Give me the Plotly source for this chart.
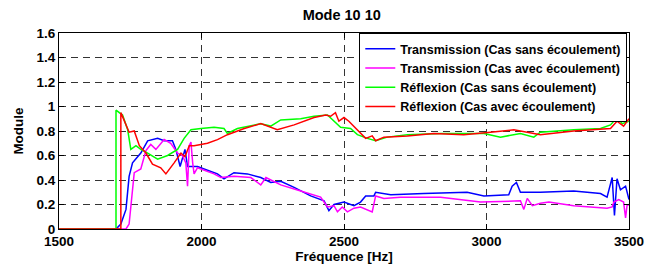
import plotly.graph_objects as go

# Transmission (Cas sans écoulement) - blue
f_blue = [1500, 1700, 1717, 1735, 1746, 1758, 1787, 1811, 1846, 1869, 1898, 1910, 1925, 1942, 1951,
          1986, 2021, 2056, 2079, 2114, 2161, 2208, 2243, 2278, 2325, 2383, 2430, 2447, 2465, 2500,
          2535, 2558, 2576, 2605, 2611, 2664, 2780, 2932, 2991, 3078, 3090, 3105, 3119, 3189, 3306,
          3400, 3423, 3441, 3449, 3458, 3470, 3488, 3500]
m_blue = [0, 0, 0.04, 0.16, 0.43, 0.54, 0.62, 0.72, 0.74, 0.72, 0.72, 0.65, 0.51, 0.65, 0.51,
          0.51, 0.48, 0.45, 0.41, 0.46, 0.45, 0.42, 0.38, 0.39, 0.34, 0.27, 0.23, 0.15, 0.20, 0.22,
          0.19, 0.22, 0.27, 0.27, 0.30, 0.28, 0.29, 0.30, 0.27, 0.28, 0.35, 0.38, 0.30, 0.30, 0.31,
          0.29, 0.26, 0.42, 0.11, 0.41, 0.32, 0.35, 0.24]

# Transmission (Cas avec écoulement) - magenta
f_mag = [1500, 1735, 1746, 1758, 1764, 1787, 1805, 1822, 1840, 1869, 1892, 1916, 1933, 1945, 1951,
         1957, 1963, 1969, 1974, 1986, 2009, 2044, 2068, 2114, 2173, 2208, 2226, 2278, 2348, 2418,
         2442, 2465, 2477, 2494, 2512, 2535, 2558, 2582, 2599, 2611, 2640, 2698, 2839, 2979, 3119,
         3131, 3143, 3161, 3189, 3219, 3306, 3423, 3441, 3447, 3464, 3481, 3488, 3493, 3500]
m_mag = [0, 0, 0.04, 0.32, 0.46, 0.49, 0.64, 0.69, 0.65, 0.73, 0.70, 0.62, 0.60, 0.54, 0.35,
         0.68, 0.71, 0.54, 0.45, 0.50, 0.48, 0.45, 0.42, 0.43, 0.42, 0.36, 0.42, 0.36, 0.31, 0.26,
         0.18, 0.19, 0.14, 0.18, 0.14, 0.17, 0.18, 0.16, 0.14, 0.27, 0.25, 0.26, 0.26, 0.22, 0.23,
         0.16, 0.25, 0.19, 0.21, 0.22, 0.19, 0.17, 0.18, 0.22, 0.24, 0.22, 0.09, 0.19, 0.20]

# Réflexion (Cas sans écoulement) - green
f_green = [1500, 1700, 1700, 1723, 1741, 1752, 1770, 1787, 1811, 1846, 1881, 1916, 1939, 1963, 1998,
           2044, 2079, 2091, 2126, 2208, 2243, 2278, 2348, 2395, 2442, 2465, 2488, 2523, 2547, 2582,
           2611, 2652, 2722, 2839, 2991, 3049, 3119, 3166, 3189, 3306, 3400, 3435, 3458, 3476, 3500]
m_green = [0, 0, 0.97, 0.93, 0.81, 0.65, 0.68, 0.65, 0.62, 0.57, 0.60, 0.65, 0.74, 0.81, 0.82,
           0.83, 0.82, 0.78, 0.82, 0.86, 0.84, 0.89, 0.90, 0.92, 0.93, 0.88, 0.83, 0.82, 0.77, 0.74,
           0.72, 0.75, 0.77, 0.78, 0.78, 0.75, 0.78, 0.75, 0.79, 0.81, 0.82, 0.85, 0.91, 0.86, 0.88]

# Réflexion (Cas avec écoulement) - red
f_red = [1500, 1717, 1717, 1729, 1746, 1764, 1782, 1805, 1828, 1857, 1875, 1904, 1928, 1942, 1957,
         1974, 2021, 2056, 2091, 2150, 2208, 2266, 2325, 2395, 2436, 2453, 2470, 2482, 2500, 2517,
         2547, 2576, 2599, 2611, 2640, 2722, 2815, 2920, 3014, 3096, 3189, 3306, 3435, 3458, 3481, 3500]
m_red = [0, 0, 0.95, 0.88, 0.79, 0.80, 0.68, 0.62, 0.53, 0.50, 0.45, 0.54, 0.62, 0.59, 0.68,
         0.68, 0.70, 0.73, 0.77, 0.82, 0.86, 0.81, 0.85, 0.91, 0.93, 0.92, 0.95, 0.88, 0.91, 0.88,
         0.81, 0.74, 0.76, 0.72, 0.75, 0.76, 0.78, 0.77, 0.79, 0.81, 0.77, 0.80, 0.82, 0.88, 0.84, 0.90]

names = ["Transmission (Cas sans écoulement)", "Transmission (Cas avec écoulement)",
         "Réflexion (Cas sans écoulement)", "Réflexion (Cas avec écoulement)"]
colors = ["#0000ff", "#ff00ff", "#00ff00", "#ff0000"]

x_ticks = [1500, 2000, 2500, 3000, 3500]
y_ticks = [0, 0.2, 0.4, 0.6, 0.8, 1, 1.2, 1.4, 1.6]
y_tick_labels = ["0", "0.2", "0.4", "0.6", "0.8", "1", "1.2", "1.4", "1.6"]

fig = go.Figure()
for fx, my, nm, c in zip([f_blue, f_mag, f_green, f_red], [m_blue, m_mag, m_green, m_red], names, colors):
    fig.add_trace(go.Scatter(x=fx, y=my, mode="lines", name=nm,
                             line=dict(color=c, width=1.5)))

axis_common = dict(showline=True, linecolor="black", linewidth=1, mirror="ticks",
                   ticks="inside", ticklen=5, tickcolor="black",
                   showgrid=True, gridcolor="#333333", gridwidth=1, griddash="7px,5px",
                   zeroline=False, automargin=False,
                   tickfont=dict(size=13.5, color="black", weight="bold"))

fig.update_layout(
    width=661, height=269,
    margin=dict(l=59, r=32, t=33, b=40, autoexpand=False),
    paper_bgcolor="white", plot_bgcolor="white",
    font=dict(family="Liberation Sans, Arial", color="black", weight="bold"),
    title=dict(text="Mode 10 10", x=0.517, xanchor="center", y=0.963, yanchor="top",
               font=dict(size=14.5, weight="bold")),
    xaxis=dict(range=[1500, 3500], tickvals=x_ticks,
               title=dict(text="Fréquence [Hz]", font=dict(size=13.5, weight="bold"), standoff=3),
               **axis_common),
    yaxis=dict(range=[0, 1.6], tickvals=y_ticks, ticktext=y_tick_labels,
               title=dict(text="Module", font=dict(size=13.5, weight="bold"), standoff=9),
               **axis_common),
    legend=dict(x=0.997, y=1.0, xanchor="right", yanchor="top",
                bgcolor="white", bordercolor="black", borderwidth=1,
                font=dict(size=12.5, weight="bold"), tracegroupgap=0, itemwidth=30),
    showlegend=True,
)

fig.write_html("out.html", config={"displayModeBar": False},
               post_script="document.body.style.margin='0';document.body.style.overflow='hidden';")
